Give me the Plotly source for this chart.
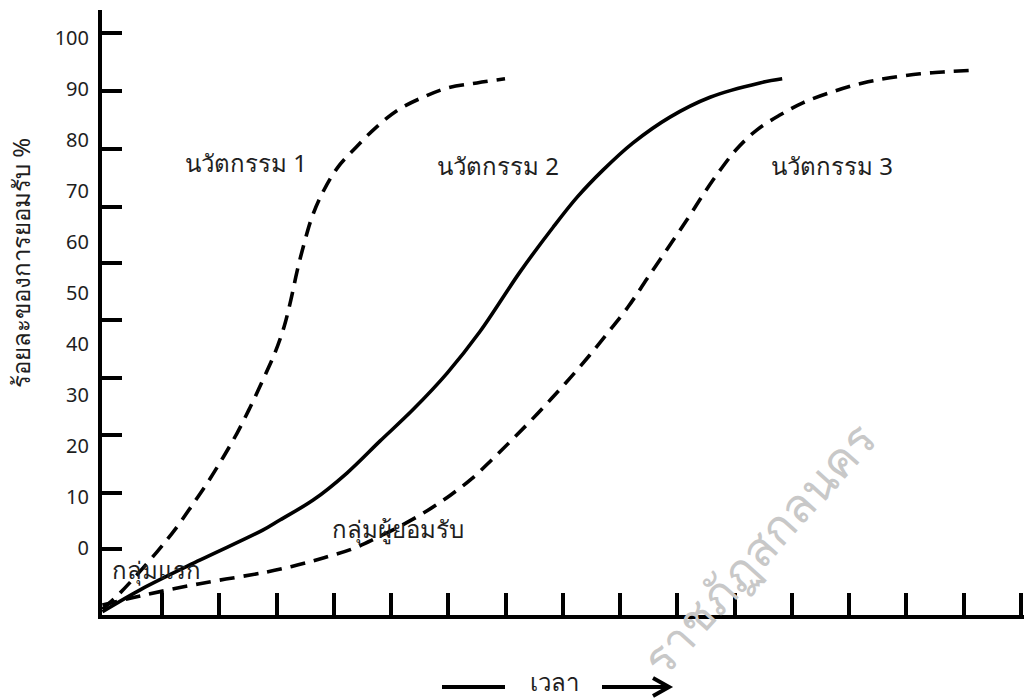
import plotly.graph_objects as go

# ---- data: time (tick units) and adoption percent ----
innov1_time = [-0.04, 0.27, 0.91, 1.24, 1.54, 1.80, 2.07, 2.31, 2.54, 2.76, 2.97, 3.13, 3.25,
               3.36, 3.48, 3.62, 3.81, 4.06, 4.39, 4.74, 5.12, 5.56, 5.98, 6.50, 6.99]
innov1_pct = [-12.0, -8.8, -0.8, 3.8, 8.6, 12.9, 17.8, 22.5, 27.6, 32.9, 38.2, 43.3, 48.6,
              54.3, 59.6, 64.9, 69.8, 74.5, 78.6, 82.5, 85.9, 88.4, 90.2, 91.2, 92.0]

innov2_time = [-0.04, 0.62, 1.66, 2.76, 3.06, 3.64, 4.23, 4.81, 5.38, 5.98, 6.55, 7.25, 7.83,
               8.25, 8.70, 9.22, 9.87, 10.57, 11.44, 11.83]
innov2_pct = [-12.5, -8.2, -2.4, 3.5, 5.5, 9.4, 14.7, 21.0, 27.1, 34.3, 42.4, 54.1, 62.9,
              68.8, 74.1, 79.4, 84.5, 88.4, 91.2, 92.0]

innov3_time = [-0.04, 0.62, 1.66, 2.83, 3.38, 3.83, 4.32, 4.75, 5.21, 5.63, 6.03, 6.41, 6.76,
               7.11, 7.46, 7.81, 8.14, 8.46, 8.77, 9.14, 9.47, 9.82, 10.17, 10.45, 10.74,
               11.04, 11.39, 11.79, 12.19, 12.72, 13.24, 13.71, 14.24, 14.71, 15.20]
innov3_pct = [-11.2, -9.4, -7.0, -4.7, -3.3, -1.9, -0.2, 2.0, 4.6, 7.3, 10.3, 13.6, 17.3,
              21.2, 25.2, 29.4, 33.5, 37.7, 42.0, 47.3, 52.8, 58.6, 64.4, 69.3, 74.0,
              78.3, 82.0, 84.9, 87.3, 89.5, 91.2, 92.2, 93.0, 93.4, 93.7]

x_ticks = list(range(1, 17))
y_label_values = [0, 10, 20, 30, 40, 50, 60, 70, 80, 90, 100]
y_label_text = [str(v) for v in y_label_values]
y_tick_marks = [-0.2, 10.8, 22.2, 33.3, 44.7, 55.9, 66.9, 78.2, 89.6, 101.0]

curve_names = ["นวัตกรรม 1", "นวัตกรรม 2", "นวัตกรรม 3"]
other_labels = ["กลุ่มผู้ยอมรับ", "กลุ่มแรก"]
y_title = "ร้อยละของการยอมรับ %"
x_title = "เวลา"
watermark = "ราชภัฏสกลนคร"

FONT = "Noto Sans, Liberation Sans, sans-serif"
X_RANGE = [-0.047, 16.052]
Y_RANGE = [-13.14, 105.5]

# plot area in pixels (for decorations in paper coordinates)
L, R, T, B = 102, 1024, 10, 615
def px(xp):
    return (xp - L) / (R - L)
def py(yp):
    return (B - yp) / (B - T)

fig = go.Figure()
dash = "15px,9px"
line_common = dict(color="black", width=3.6, shape="spline", smoothing=1.0)
fig.add_trace(go.Scatter(x=innov1_time, y=innov1_pct, mode="lines",
                         line=dict(**line_common, dash=dash),
                         name=curve_names[0], showlegend=False, hoverinfo="skip"))
fig.add_trace(go.Scatter(x=innov2_time, y=innov2_pct, mode="lines",
                         line=dict(**line_common),
                         name=curve_names[1], showlegend=False, hoverinfo="skip"))
fig.add_trace(go.Scatter(x=innov3_time, y=innov3_pct, mode="lines",
                         line=dict(**line_common, dash=dash),
                         name=curve_names[2], showlegend=False, hoverinfo="skip"))
# invisible trace to carry the label axis
fig.add_trace(go.Scatter(x=[None], y=[None], yaxis="y2", showlegend=False, hoverinfo="skip"))

text_color = "#1e1e1e"
annotations = [
    dict(x=2.47, y=75.5, text=curve_names[0]),
    dict(x=6.87, y=75.1, text=curve_names[1]),
    dict(x=12.70, y=75.1, text=curve_names[2]),
    dict(x=5.12, y=3.9, text=other_labels[0]),
    dict(x=0.90, y=-4.3, text=other_labels[1]),
]
for a in annotations:
    a.update(xref="x", yref="y", showarrow=False, xanchor="center", yanchor="middle",
             font=dict(family=FONT, size=24, color=text_color))

annotations.append(dict(xref="paper", yref="paper", x=px(20), y=py(263), text=y_title,
                        textangle=-90, showarrow=False, xanchor="center", yanchor="middle",
                        font=dict(family=FONT, size=24, color=text_color)))
annotations.append(dict(xref="paper", yref="paper", x=px(554), y=py(700), text=x_title,
                        showarrow=False, xanchor="center", yanchor="bottom",
                        font=dict(family=FONT, size=24, color=text_color)))
annotations.append(dict(xref="paper", yref="paper", x=px(892), y=py(405), text=watermark,
                        textangle=-48, showarrow=False, xanchor="right", yanchor="top",
                        font=dict(family=FONT, size=47, color="#c8c8c8")))

shapes = [
    dict(type="line", xref="paper", yref="paper", x0=px(442), x1=px(505), y0=py(687), y1=py(687),
         line=dict(color="black", width=4)),
    dict(type="line", xref="paper", yref="paper", x0=px(602), x1=px(668), y0=py(687), y1=py(687),
         line=dict(color="black", width=4)),
    dict(type="path", xref="paper", yref="paper",
         path=f"M {px(653)},{py(678)} L {px(669)},{py(687)} L {px(653)},{py(696)}",
         line=dict(color="black", width=4)),
]

fig.update_layout(
    width=1024, height=700,
    margin=dict(l=L, r=1024 - R, t=T, b=700 - B),
    paper_bgcolor="white", plot_bgcolor="white",
    annotations=annotations, shapes=shapes,
    xaxis=dict(range=X_RANGE, showline=True, linewidth=4, linecolor="black",
               ticks="inside", ticklen=22, tickwidth=3.5, tickcolor="black",
               tickvals=x_ticks, showticklabels=False, showgrid=False, zeroline=False,
               fixedrange=True),
    yaxis=dict(range=Y_RANGE, showline=True, linewidth=4, linecolor="black",
               ticks="inside", ticklen=20, tickwidth=3.5, tickcolor="black",
               tickvals=y_tick_marks, showticklabels=False, showgrid=False, zeroline=False,
               fixedrange=True),
    yaxis2=dict(range=Y_RANGE, overlaying="y", side="left", anchor="x",
                tickvals=y_label_values, ticktext=y_label_text, ticks="",
                showline=False, showgrid=False, zeroline=False, ticklabelstandoff=12,
                tickfont=dict(family=FONT, size=20, color=text_color), fixedrange=True),
)

fig.write_html("out.html", config={"displayModeBar": False},
               post_script="document.body.style.margin='0';document.body.style.padding='0';"
                           "document.body.style.overflow='hidden';")
